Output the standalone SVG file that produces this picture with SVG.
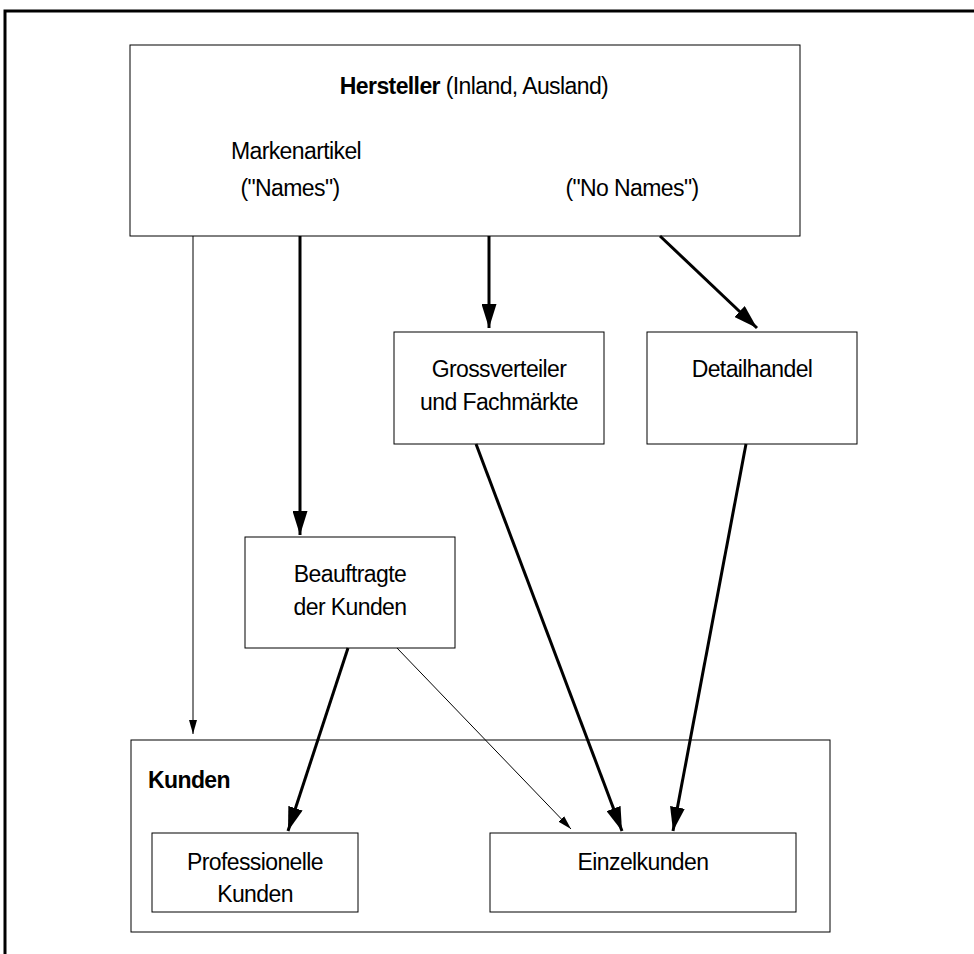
<svg xmlns="http://www.w3.org/2000/svg" width="974" height="954" viewBox="0 0 974 954">
<defs>
<style>
text{font-family:"Liberation Sans",Arial,sans-serif;font-size:23px;fill:#000;text-anchor:middle;letter-spacing:-0.6px}
.b{font-weight:bold}
.box{fill:#fff;stroke:#000;stroke-width:1}
.thick{stroke:#000;stroke-width:3;fill:none}
.thin{stroke:#000;stroke-width:1;fill:none}
</style>
<marker id="ah" viewBox="0 0 24 15" refX="24" refY="7.5" markerWidth="24" markerHeight="15" markerUnits="userSpaceOnUse" orient="auto"><path d="M0,0 L24,7.5 L0,15 Z" fill="#000"/></marker>
<marker id="ahs" viewBox="0 0 14 8" refX="14" refY="4" markerWidth="14" markerHeight="8" markerUnits="userSpaceOnUse" orient="auto"><path d="M0,0 L14,4 L0,8 Z" fill="#000"/></marker>
</defs>
<rect width="974" height="954" fill="#fff"/>
<path d="M5,954 L5,11 L974,11" stroke="#000" stroke-width="3" fill="none"/>
<g id="hersteller">
<rect class="box" x="130" y="45" width="670" height="191"/>
<text x="474" y="94"><tspan class="b">Hersteller</tspan> (Inland, Ausland)</text>
<text x="296" y="159">Markenartikel</text>
<text x="290" y="196">("Names")</text>
<text x="632" y="196">("No Names")</text>
</g>
<g id="grossverteiler">
<rect class="box" x="394" y="332" width="210" height="112"/>
<text x="499" y="377">Grossverteiler</text>
<text x="499" y="410">und Fachmärkte</text>
</g>
<g id="detailhandel">
<rect class="box" x="647" y="332" width="210" height="112"/>
<text x="752" y="377">Detailhandel</text>
</g>
<g id="beauftragte">
<rect class="box" x="245" y="537" width="210" height="111"/>
<text x="350" y="582">Beauftragte</text>
<text x="350" y="615">der Kunden</text>
</g>
<g id="kunden">
<rect class="box" x="131" y="740" width="699" height="192"/>
<text class="b" x="148" y="788" style="text-anchor:start">Kunden</text>
</g>
<g id="professionelle">
<rect class="box" x="152" y="833" width="206" height="79"/>
<text x="255" y="870">Professionelle</text>
<text x="255" y="902">Kunden</text>
</g>
<g id="einzelkunden">
<rect class="box" x="490" y="833" width="306" height="79"/>
<text x="643" y="870">Einzelkunden</text>
</g>
<g id="connectors">
<line class="thin" x1="193" y1="236" x2="193" y2="734" marker-end="url(#ahs)"/>
<line class="thick" x1="300" y1="236" x2="300" y2="535" marker-end="url(#ah)"/>
<line class="thick" x1="489" y1="236" x2="489" y2="328" marker-end="url(#ah)"/>
<line class="thick" x1="660" y1="236" x2="757" y2="328" marker-end="url(#ah)"/>
<line class="thick" x1="348" y1="648" x2="288" y2="831" marker-end="url(#ah)"/>
<line class="thin" x1="397" y1="648" x2="571" y2="829" marker-end="url(#ahs)"/>
<line class="thick" x1="476" y1="444" x2="622" y2="831" marker-end="url(#ah)"/>
<line class="thick" x1="746" y1="444" x2="673" y2="831" marker-end="url(#ah)"/>
</g>
</svg>
